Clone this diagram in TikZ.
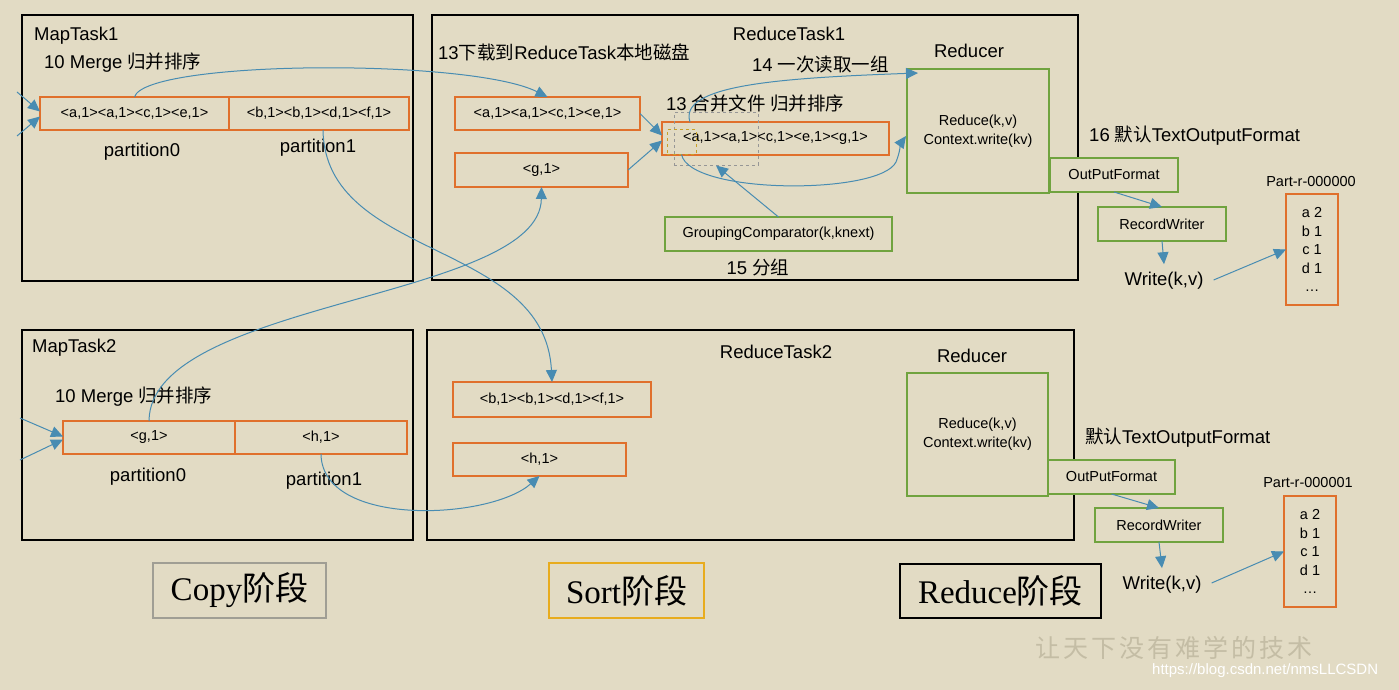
\documentclass[tikz,border=0pt]{standalone}
\usepackage{fontspec}
\setmainfont{Liberation Sans}
\newfontfamily\cjkfont{Noto Sans CJK SC}
\newfontfamily\wmfont[LetterSpace=12]{Noto Sans CJK SC}
\newfontfamily\seriffont{Liberation Serif}
\newcommand\zh[1]{{\cjkfont #1}}
\usetikzlibrary{arrows.meta,calc}
\definecolor{bg}{RGB}{226,219,196}
\definecolor{orangeC}{RGB}{224,112,44}
\definecolor{greenC}{RGB}{112,163,63}
\definecolor{blueC}{RGB}{72,140,178}
\definecolor{grayC}{RGB}{150,150,150}
\definecolor{goldC}{RGB}{200,160,40}
\definecolor{copyC}{RGB}{160,158,148}
\definecolor{sortC}{RGB}{232,172,30}
\definecolor{wmC}{RGB}{196,189,165}
\tikzset{
  base/.style={inner sep=0pt, outer sep=0pt, fill=bg},
  taskbox/.style={base, draw=black, line width=2pt},
  obox/.style={base, draw=orangeC, line width=2pt, font=\fontsize{14.5}{17}\selectfont},
  gbox/.style={base, draw=greenC, line width=2pt, font=\fontsize{14.5}{19}\selectfont, align=center},
  big/.style={inner sep=0pt, font=\fontsize{18.5}{22}\selectfont},
  small/.style={inner sep=0pt, font=\fontsize{14.5}{18.5}\selectfont, align=center},
  stage/.style={inner sep=0pt, outer sep=0pt, line width=2pt, font=\fontsize{33}{36}\selectfont},
  conn/.style={draw=blueC, line width=1pt, -{Triangle[length=12pt,width=11pt]}},
}
\begin{document}
\begin{tikzpicture}[x=1pt,y=-1pt]
\useasboundingbox (0,0) rectangle (1399,690);
\fill[bg] (0,0) rectangle (1399,690);

% task boxes
\node[taskbox, minimum width=391pt, minimum height=266pt] (mt1) at (217.5,148) {};
\node[taskbox, minimum width=646pt, minimum height=265pt] (rt1) at (755,147.5) {};
\node[taskbox, minimum width=391pt, minimum height=210pt] (mt2) at (217.5,435) {};
\node[taskbox, minimum width=647pt, minimum height=210pt] (rt2) at (750.5,435) {};

% MapTask1
\node[big, anchor=west] (mt1t) at (34,36) {MapTask1};
\node[big, anchor=west] (mt1m) at (44,63) {10 Merge \zh{归并排序}};
\node[obox, minimum width=189pt, minimum height=33pt] (m1p0) at (134.5,113.5) {<a,1><a,1><c,1><e,1>};
\node[obox, minimum width=180pt, minimum height=33pt] (m1p1) at (319,113.5) {<b,1><b,1><d,1><f,1>};
\node[big] (m1l0) at (142,152) {partition0};
\node[big] (m1l1) at (318,148) {partition1};

% MapTask2
\node[big, anchor=west] (mt2t) at (32,348) {MapTask2};
\node[big, anchor=west] (mt2m) at (55,397) {10 Merge \zh{归并排序}};
\node[obox, minimum width=172pt, minimum height=33pt] (m2p0) at (149,437.5) {<g,1>};
\node[obox, minimum width=172pt, minimum height=33pt] (m2p1) at (321,437.5) {<h,1>};
\node[big] (m2l0) at (148,477) {partition0};
\node[big] (m2l1) at (324,481) {partition1};

% ReduceTask1
\node[big] (rt1t) at (789,34) {ReduceTask1};
\node[big, anchor=west] (dl) at (438,52) {13\zh{下载到}ReduceTask\zh{本地磁盘}};
\node[big, anchor=west] (rd) at (752,65) {14 \zh{一次读取一组}};
\node[big, anchor=west] (mg) at (666,103) {13 \zh{合并文件 归并排序}};
\node[obox, minimum width=185pt, minimum height=33pt] (r1a) at (547.5,113.5) {<a,1><a,1><c,1><e,1>};
\node[obox, minimum width=173pt, minimum height=34pt] (r1g) at (541.5,170) {<g,1>};
\node[obox, minimum width=227pt, minimum height=33pt] (mrg) at (775.5,138.5) {<a,1><a,1><c,1><e,1><g,1>};
\node[draw=grayC, dashed, line width=1pt, inner sep=0pt, minimum width=84pt, minimum height=52pt] (gray) at (716,139) {};
\node[draw=goldC, dashed, line width=1pt, inner sep=0pt, minimum width=29pt, minimum height=24pt] (yel) at (681.5,142) {};
\node[gbox, minimum width=227pt, minimum height=34pt] (gc) at (778.5,234) {GroupingComparator(k,knext)};
\node[big] (fz) at (758,267) {15 \zh{分组}};

% Reducer 1
\node[big] (rc1) at (969,51) {Reducer};
\node[gbox, minimum width=142pt, minimum height=124pt] (red1) at (978,131) {Reduce(k,v)\\Context.write(kv)};
\node[big, anchor=west] (to1) at (1089,136) {16 \zh{默认}TextOutputFormat};
\node[gbox, minimum width=128pt, minimum height=34pt] (of1) at (1114,175) {OutPutFormat};
\node[gbox, minimum width=128pt, minimum height=34pt] (rw1) at (1162,224) {RecordWriter};
\node[big] (w1) at (1164,281) {Write(k,v)};
\node[small] (pn1) at (1311,182) {Part-r-000000};
\node[obox, minimum width=52pt, minimum height=111pt, align=center, font=\fontsize{14.5}{18.5}\selectfont] (part1) at (1312,249.5) {a 2\\b 1\\c 1\\d 1\\…};

% ReduceTask2
\node[big] (rt2t) at (776,352) {ReduceTask2};
\node[obox, minimum width=198pt, minimum height=35pt] (r2a) at (552,399.5) {<b,1><b,1><d,1><f,1>};
\node[obox, minimum width=173pt, minimum height=33pt] (r2h) at (539.5,459.5) {<h,1>};

% Reducer 2
\node[big] (rc2) at (972,356) {Reducer};
\node[gbox, minimum width=141pt, minimum height=123pt] (red2) at (977.5,434.5) {Reduce(k,v)\\Context.write(kv)};
\node[big, anchor=west] (to2) at (1085,438) {\zh{默认}TextOutputFormat};
\node[gbox, minimum width=127pt, minimum height=34pt] (of2) at (1111.5,477) {OutPutFormat};
\node[gbox, minimum width=128pt, minimum height=34pt] (rw2) at (1159,525) {RecordWriter};
\node[big] (w2) at (1162,585) {Write(k,v)};
\node[small] (pn2) at (1308,483) {Part-r-000001};
\node[obox, minimum width=52pt, minimum height=111pt, align=center, font=\fontsize{14.5}{18.5}\selectfont] (part2) at (1310,551.5) {a 2\\b 1\\c 1\\d 1\\…};

% stage labels
\node[stage, draw=copyC, fill=bg, minimum width=173pt, minimum height=55pt] (copy) at (239.5,590.5) {\seriffont Copy\zh{阶段}};
\node[stage, draw=sortC, fill=bg, minimum width=155pt, minimum height=55pt] (sort) at (626.5,590.5) {\seriffont Sort\zh{阶段}};
\node[stage, draw=black, fill=bg, minimum width=201pt, minimum height=54pt] (redst) at (1000.5,591) {\seriffont Reduce\zh{阶段}};

% watermark
\node[anchor=west, inner sep=0pt, text=wmC, font=\fontsize{25}{25}\selectfont] (wm1) at (1035,648) {\wmfont 让天下没有难学的技术};
\node[anchor=west, inner sep=0pt, text=white, font=\fontsize{15}{15}\selectfont] (wm2) at (1152,671) {https://blog.csdn.net/nmsLLCSDN};

% connectors
\coordinate (in1) at (17,92);
\coordinate (in2) at (17,136);
\coordinate (in3) at (20,418);
\coordinate (in4) at (20,460);
\draw[conn] (in1) -- ($(m1p0.west)+(0,-2)$);
\draw[conn] (in2) -- ($(m1p0.west)+(0,3)$);
\draw[conn] (in3) -- ($(m2p0.west)+(0,-1)$);
\draw[conn] (in4) -- ($(m2p0.west)+(0,2)$);

\draw[conn] (m1p0.north) .. controls (145,60) and (470,58) .. (r1a.north);
\draw[conn] ($(m1p1.south)+(4,0)$) .. controls (325,260) and (545,240) .. (r2a.north);
\draw[conn] (m2p0.north) .. controls (150,300) and (540,300) .. (r1g.south);
\draw[conn] (m2p1.south) .. controls (322,528) and (490,520) .. (r2h.south);

\draw[conn] (r1a.east) -- ($(mrg.west)+(0,-3)$);
\draw[conn] (r1g.east) -- ($(mrg.west)+(0,2)$);
\draw[conn] (gc.north) -- (gray.south);
\draw[conn] ($(mrg.north west)+(28,0)$) .. controls (678,85) and (780,78) .. ($(red1.north west)+(11,4)$);
\draw[conn] (yel.south) .. controls (690,195) and (880,195) .. (896,162) .. controls (900,152) and (901,143) .. ($(red1.west)+(-1,5)$);

\draw[conn] (of1.south) -- (rw1.north);
\draw[conn] (rw1.south) -- ($(w1.north)+(0,-8)$);
\draw[conn] ($(w1.east)+(10,-1)$) -- (part1.west);
\draw[conn] (of2.south) -- (rw2.north);
\draw[conn] (rw2.south) -- ($(w2.north)+(0,-8)$);
\draw[conn] ($(w2.east)+(10,-2)$) -- (part2.west);
\end{tikzpicture}
\end{document}
